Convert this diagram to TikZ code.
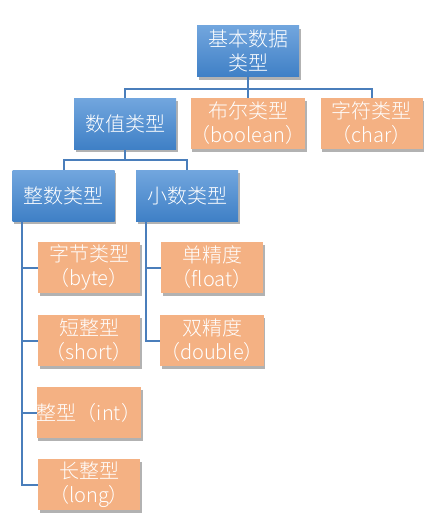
\documentclass[tikz,border=0pt]{standalone}
\usepackage{fontspec}
\newfontfamily\cjk{Noto Sans CJK SC Light}
\usetikzlibrary{shadows}
\definecolor{lienbleu}{HTML}{4A7EBB}
\definecolor{bleuhaut}{HTML}{72A6DE}
\definecolor{bleubas}{HTML}{3F80C6}
\definecolor{orange}{HTML}{F4B183}
\begin{document}
\begin{tikzpicture}[x=1pt,y=-1pt,
	boite/.style={minimum width=102pt,minimum height=51pt,inner sep=0pt,align=center,
		text=white,font=\cjk\fontsize{20}{24}\selectfont,
		drop shadow={shadow xshift=1.5pt,shadow yshift=-3pt,fill=black!60,opacity=.5}},
	bleu/.style={boite,top color=bleuhaut,bottom color=bleubas},
	feuille/.style={boite,fill=orange},
	lien/.style={draw=lienbleu,line width=2pt}]
		\useasboundingbox (0,0) rectangle (436,522);
		\node (Ba) at (248,51)    [bleu] {基本数据\\类型};
		\node (Nu) at (125,123.5) [bleu] {数值类型};
		\node (Bo) at (248,123.5) [feuille] {布尔类型\\（boolean）};
		\node (Ch) at (371.5,123.5) [feuille] {字符类型\\（char）};
		\node (En) at (63.5,195.5) [bleu] {整数类型};
		\node (De) at (187,195.5) [bleu] {小数类型};
		\node (By) at (89,267.5)  [feuille] {字节类型\\（byte）};
		\node (Sh) at (89,340.5)  [feuille] {短整型\\（short）};
		\node (In) at (89,412.5)  [feuille] {整型（int）};
		\node (Lo) at (89,484.5)  [feuille] {长整型\\（long）};
		\node (Fl) at (212,267.5) [feuille] {单精度\\（float）};
		\node (Do) at (212,340.5) [feuille] {双精度\\（double）};
		% arbre
		\draw[lien] (Ba.south) -- ++(0,12) -| (Nu.north);
		\draw[lien] (Ba.south) -- ++(0,12) -| (Ch.north);
		\draw[lien] (Ba.south) -- (Bo.north);
		\draw[lien] (Nu.south) -- ++(0,11) -| (En.north);
		\draw[lien] (Nu.south) -- ++(0,11) -| (De.north);
		% feuilles
		\foreach \f in {By,Sh,In,Lo}
			\draw[lien] ([xshift=10pt]En.south west) |- (\f.west);
		\foreach \f in {Fl,Do}
			\draw[lien] ([xshift=10pt]De.south west) |- (\f.west);
	\end{tikzpicture}
\end{document}
